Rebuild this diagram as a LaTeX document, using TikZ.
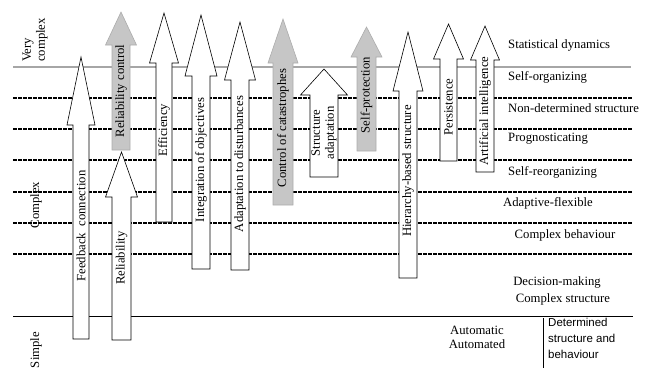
\documentclass[tikz,border=0pt]{standalone}
\usepackage{fontspec}
\setmainfont{Liberation Serif}
\newfontfamily\arialfont{Liberation Sans}
\usetikzlibrary{arrows}

% block arrow pointing up: [style]{x centre}{half shaft}{half head}{bottom}{head base}{tip}
\newcommand{\blockarrow}[7][whitearrow]{%
\filldraw[#1] (#2-#3,#5) -- (#2-#3,#6) -- (#2-#4,#6) -- (#2,#7)
-- (#2+#4,#6) -- (#2+#3,#6) -- (#2+#3,#5) -- cycle;}

\begin{document}
\begin{tikzpicture}[x=1pt,y=-1pt,
whitearrow/.style={fill=white,draw=black,line width=0.6pt},
grayarrow/.style={fill=gray!45,draw=gray!65,line width=0.6pt},
lbl/.style={font=\fontsize{12.7}{14}\selectfont,inner sep=0pt},
vlbl/.style={lbl,rotate=90},
level/.style={line width=1.1pt,dash pattern=on 3.5pt off 1.5pt}]
\useasboundingbox (0,0) rectangle (648,373);
% levels
\draw[gray!70,line width=1.2pt] (13,67) -- (631,67);
\foreach \y in {98,129,160,192,223,254}
\draw[level] (13,\y) -- (633,\y);
\draw[line width=0.9pt] (13,316) -- (633,316);
\draw[line width=0.9pt] (543,318) -- (543,368);
% arrows
\blockarrow{81}{8}{14}{339}{125}{57}
\blockarrow{121.5}{9.5}{16}{340}{197}{152}
\blockarrow[grayarrow]{121}{9}{15.5}{150}{45}{12}
\blockarrow{164}{8}{14.5}{222}{63}{13}
\blockarrow{201}{9}{16}{269}{76}{15}
\blockarrow{240}{9}{15.5}{270}{80}{22}
\blockarrow[grayarrow]{283}{10}{15}{205}{63}{19}
\blockarrow{324}{14}{23.5}{177}{95}{69}
\blockarrow[grayarrow]{366.5}{9.5}{15.5}{151}{57}{27}
\blockarrow{408}{9}{15}{278}{91}{32}
\blockarrow{448.5}{8.5}{15}{161}{59}{24}
\blockarrow{485}{9}{14.5}{172}{60}{26}
% arrow texts
\node[vlbl] (feedback) at (81,226) {Feedback\ \ connection};
\node[vlbl] (reliab) at (121.5,258) {Reliability};
\node[vlbl] (relcontrol) at (121,91) {Reliability control};
\node[vlbl] (effic) at (164,130) {Efficiency};
\node[vlbl] (integr) at (201,160) {Integration of objectives};
\node[vlbl] (adapt) at (240,164) {Adaptation to disturbances};
\node[vlbl] (catastr) at (283,128) {Control of catastrophes};
\node[vlbl,align=center] (structadapt) at (324,133) {Structure\\adaptation};
\node[vlbl] (selfprot) at (366.5,95) {Self-protection};
\node[vlbl] (hierarchy) at (408,171) {Hierarchy-based structure};
\node[vlbl] (persist) at (448.5,107) {Persistence};
\node[vlbl] (artint) at (485,111) {Artificial intelligence};
% left scale
\node[vlbl,anchor=west,align=left] (verycomplex) at (35,62) {Very\\complex};
\node[vlbl] (complex) at (36,205) {Complex};
\node[vlbl] (simple) at (36,350) {Simple};
% right scale
\node[lbl,anchor=west] (statdyn) at (508,45) {Statistical dynamics};
\node[lbl,anchor=west] (selforg) at (508,77) {Self-organizing};
\node[lbl,anchor=west] (nondet) at (508,108) {Non-determined structure};
\node[lbl,anchor=west] (progn) at (508,139) {Prognosticating};
\node[lbl,anchor=west] (selfreorg) at (508,172) {Self-reorganizing};
\node[lbl] (adflex) at (548,203) {Adaptive-flexible};
\node[lbl] (cbehav) at (565,235) {Complex behaviour};
\node[lbl] (decision) at (557,282) {Decision-making};
\node[lbl] (cstruct) at (563,299) {Complex structure};
\node[lbl] (automatic) at (477,330) {Automatic};
\node[lbl] (automated) at (477,344) {Automated};
\node[anchor=north west,inner sep=0pt,align=left,
font=\arialfont\fontsize{11.5}{16}\selectfont] (determined) at (548,318)
{Determined\\structure and\\behaviour};
\end{tikzpicture}
\end{document}
